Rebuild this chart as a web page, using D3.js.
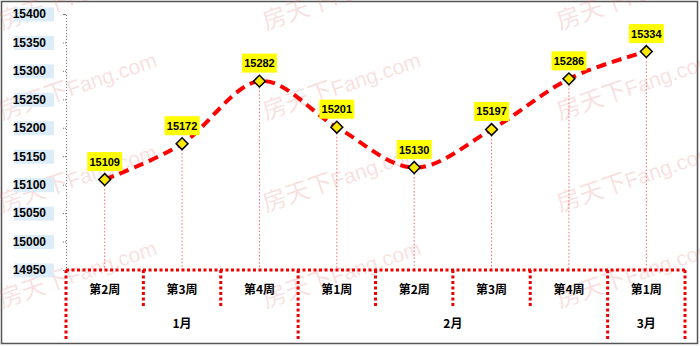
<!DOCTYPE html>
<html>
<head>
<meta charset="utf-8">
<script src="https://cdn.jsdelivr.net/npm/d3@7"></script>
<style>
  html, body { margin: 0; padding: 0; background: #fff; }
  svg { display: block; }
  .num { font-family: "Liberation Sans", Arial, sans-serif; font-weight: bold; }
  .cjk { font-family: "Noto Sans CJK SC", sans-serif; font-weight: bold; }
</style>
</head>
<body>
<svg id="chart" width="700" height="346"></svg>
<script>
// 数据
var weeks = ["第2周", "第3周", "第4周", "第1周", "第2周", "第3周", "第4周", "第1周"];
var values = [15109, 15172, 15282, 15201, 15130, 15197, 15286, 15334];
var monthNames = ["1月", "2月", "3月"];
var monthSpans = [3, 4, 1];
var yTicks = [14950, 15000, 15050, 15100, 15150, 15200, 15250, 15300, 15350, 15400];

var svg = d3.select("#chart");

var plotLeft = 66, plotRight = 685, plotTop = 14, axisY = 270;

var x = d3.scaleLinear().domain([0, weeks.length]).range([plotLeft, plotRight]);
var y = d3.scaleLinear().domain([14950, 15400]).range([axisY, plotTop]);

// 外框
svg.append("rect")
    .attr("x", 1.5).attr("y", 1.5)
    .attr("width", 696).attr("height", 342)
    .attr("fill", "#fff")
    .attr("stroke", "#555")
    .attr("stroke-width", 1.5);

// 水印
var wmX = [2, 266, 560];
var wmY = [30, 120, 212, 308];
var wm = svg.append("g").attr("pointer-events", "none");
wmX.forEach(function (wx) {
    wmY.forEach(function (wy) {
        var t = wm.append("text")
            .attr("transform", "translate(" + wx + "," + wy + ") rotate(-19)")
            .attr("fill", "#e07070")
            .attr("fill-opacity", 0.22)
            .attr("font-family", "'Noto Sans CJK SC', sans-serif")
            .attr("font-size", 24);
        t.append("tspan").text("房天下");
        t.append("tspan").attr("font-size", 21).attr("font-family", "'Liberation Sans', sans-serif").text("Fang.com");
    });
});

// y轴 (虚线)
var yAxis = d3.axisLeft(y).tickValues(yTicks).tickFormat(d3.format("d")).tickSize(3).tickPadding(17);
var gy = svg.append("g")
    .attr("transform", "translate(" + plotLeft + ",0)")
    .call(yAxis);
gy.select(".domain")
    .attr("stroke", "#777")
    .attr("stroke-dasharray", "1,2");
gy.selectAll(".tick line")
    .attr("stroke", "#777")
    .attr("stroke-dasharray", "1,1");
gy.selectAll(".tick").insert("rect", "text")
    .attr("x", -52).attr("y", -7)
    .attr("width", 40).attr("height", 14)
    .attr("fill", "#dcecf8");
gy.selectAll(".tick text")
    .attr("class", "num")
    .attr("font-size", 12)
    .attr("fill", "#000");

// 垂直引线
svg.append("g").selectAll("line")
    .data(values)
    .join("line")
    .attr("x1", function (d, i) { return x(i + 0.5); })
    .attr("x2", function (d, i) { return x(i + 0.5); })
    .attr("y1", function (d) { return y(d) + 6; })
    .attr("y2", axisY)
    .attr("stroke", "#f07070")
    .attr("stroke-width", 1)
    .attr("stroke-dasharray", "1.5,2");

// 分类轴
var redDot = { stroke: "#ee0000", width: 3, dash: "3,2.5" };
svg.append("line")
    .attr("x1", plotLeft).attr("x2", plotRight + 1.5)
    .attr("y1", axisY).attr("y2", axisY)
    .attr("stroke", redDot.stroke)
    .attr("stroke-width", redDot.width)
    .attr("stroke-dasharray", redDot.dash);

// 月份边界
var monthBounds = [0];
monthSpans.forEach(function (s) { monthBounds.push(monthBounds[monthBounds.length - 1] + s); });
var weekBounds = d3.range(1, weeks.length).filter(function (b) { return monthBounds.indexOf(b) < 0; });

svg.append("g").selectAll("line")
    .data(weekBounds)
    .join("line")
    .attr("x1", function (d) { return x(d); })
    .attr("x2", function (d) { return x(d); })
    .attr("y1", axisY).attr("y2", 306)
    .attr("stroke", redDot.stroke)
    .attr("stroke-width", redDot.width)
    .attr("stroke-dasharray", redDot.dash);

svg.append("g").selectAll("line")
    .data(monthBounds)
    .join("line")
    .attr("x1", function (d) { return x(d); })
    .attr("x2", function (d) { return x(d); })
    .attr("y1", axisY).attr("y2", 341)
    .attr("stroke", redDot.stroke)
    .attr("stroke-width", redDot.width)
    .attr("stroke-dasharray", redDot.dash);

// 周标签
svg.append("g").selectAll("text")
    .data(weeks)
    .join("text")
    .attr("class", "cjk")
    .attr("x", function (d, i) { return x(i + 0.5); })
    .attr("y", 290)
    .attr("dy", "0.35em")
    .attr("text-anchor", "middle")
    .attr("font-size", 12)
    .text(function (d) { return d; });

// 月标签
svg.append("g").selectAll("text")
    .data(monthNames)
    .join("text")
    .attr("class", "cjk")
    .attr("x", function (d, i) { return x((monthBounds[i] + monthBounds[i + 1]) / 2); })
    .attr("y", 324)
    .attr("dy", "0.35em")
    .attr("text-anchor", "middle")
    .attr("font-size", 12)
    .text(function (d) { return d; });

// 平滑虚线
var line = d3.line()
    .x(function (d, i) { return x(i + 0.5); })
    .y(function (d) { return y(d); })
    .curve(d3.curveCardinal.tension(0));

svg.append("path")
    .datum(values)
    .attr("d", line)
    .attr("fill", "none")
    .attr("stroke", "#ff0000")
    .attr("stroke-width", 4)
    .attr("stroke-dasharray", "10,6");

// 菱形标记
svg.append("g").selectAll("path")
    .data(values)
    .join("path")
    .attr("d", d3.symbol().type(d3.symbolSquare).size(70))
    .attr("transform", function (d, i) {
        return "translate(" + x(i + 0.5) + "," + y(d) + ") rotate(45)";
    })
    .attr("fill", "#ffe800")
    .attr("stroke", "#000")
    .attr("stroke-width", 1.5);

// 数据标签
var lab = svg.append("g").selectAll("g")
    .data(values)
    .join("g")
    .attr("transform", function (d, i) {
        return "translate(" + x(i + 0.5) + "," + (y(d) - 18) + ")";
    });
lab.append("rect")
    .attr("x", -17.5).attr("y", -9.5)
    .attr("width", 35).attr("height", 19)
    .attr("fill", "#ffff00");
lab.append("text")
    .attr("class", "num")
    .attr("font-size", 11)
    .attr("text-anchor", "middle")
    .attr("dy", "0.36em")
    .text(function (d) { return d; });
</script>
</body>
</html>
